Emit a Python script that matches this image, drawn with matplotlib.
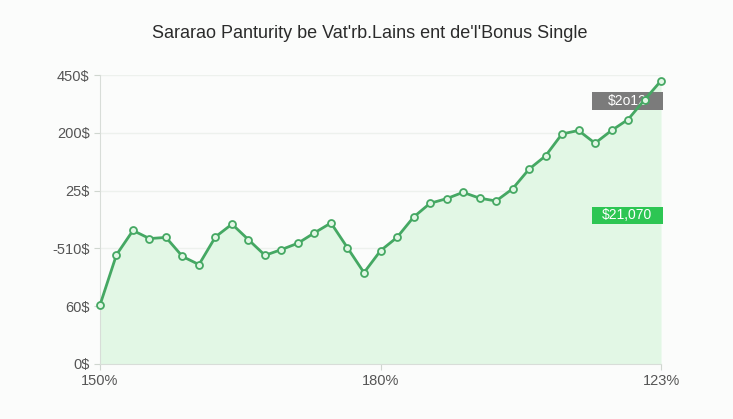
import numpy as np
import matplotlib
matplotlib.use("Agg")
import matplotlib.pyplot as plt
from matplotlib.patches import Rectangle

plt.rcParams['font.family'] = ['Liberation Sans', 'DejaVu Sans']

title = "Sararao Panturity be Vat'rb.Lains ent de'l'Bonus Single"
# values, in y-tick units (0..5)
values = [1.02, 1.89, 2.31, 2.17, 2.19, 1.86, 1.72, 2.20, 2.42, 2.15,
          1.88, 1.98, 2.09, 2.27, 2.44, 2.01, 1.58, 1.96, 2.19, 2.54,
          2.78, 2.86, 2.97, 2.87, 2.82, 3.03, 3.37, 3.60, 3.98, 4.04,
          3.82, 4.04, 4.23, 4.57, 4.90]
y_tick_labels = ["0$", "60$", "-510$", "25$", "200$", "450$"]
x_tick_pos = [0, 17, 34]
x_tick_labels = ["150%", "180%", "123%"]
box_labels = ["$2o12", "$21,070"]
box_lo = [4.39, 2.42]
box_hi = [4.71, 2.72]
box_cols = ['#7b7b7b', '#2dc653']

line_col = '#45a863'
fill_col = '#e2f7e5'

x = np.arange(len(values))

fig = plt.figure(figsize=(7.33, 4.19), dpi=100)
fig.patch.set_facecolor('#fbfcfb')
ax = fig.add_axes([0.1364, 0.1313, 0.7654, 0.6897])
ax.set_facecolor('#fbfcfb')

ax.fill_between(x, 0, values, color=fill_col, lw=0, zorder=1)
ax.plot(x, values, color=line_col, lw=2, marker='o', ms=5,
        mfc=fill_col, mec=line_col, mew=1.3, zorder=4, clip_on=False)

# value boxes on the right
for lab, lo, hi, c in zip(box_labels, box_lo, box_hi, box_cols):
    ax.add_patch(Rectangle((29.8, lo), 4.3, hi - lo, fc=c, ec='none',
                           zorder=3, clip_on=False))
    ax.text(31.95, (lo + hi) / 2, lab, ha='center', va='center',
            fontsize=10, color='white', zorder=3)

ax.set_xlim(0, 34)
ax.set_ylim(0, 5)
ax.set_yticks(range(6))
ax.set_yticklabels(y_tick_labels)
ax.set_xticks(x_tick_pos)
ax.set_xticklabels(x_tick_labels)
ax.tick_params(colors='#cfd6cf', labelcolor='#555555', labelsize=10.5, length=4)
ax.yaxis.grid(True, color='#edf1ed', lw=1)
ax.set_axisbelow(True)
for s in ['top', 'right']:
    ax.spines[s].set_visible(False)
for s in ['left', 'bottom']:
    ax.spines[s].set_color('#d8ddd8')

fig.text(0.505, 0.921, title, ha='center', va='center', fontsize=13,
         color='#2b2b2b')

fig.savefig('out.png', dpi=100, facecolor=fig.get_facecolor())
